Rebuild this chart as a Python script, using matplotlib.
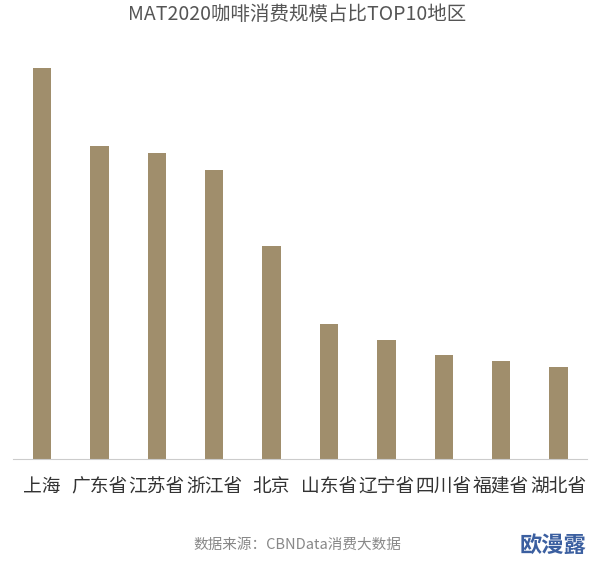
import matplotlib
matplotlib.use("Agg")
import matplotlib.pyplot as plt

plt.rcParams['font.family'] = ['Noto Sans CJK SC', 'DejaVu Sans']

regions = ["上海", "广东省", "江苏省", "浙江省", "北京", "山东省", "辽宁省", "四川省", "福建省", "湖北省"]
values = [391, 313, 306, 289, 213, 135, 119, 104, 98, 92]

fig = plt.figure(figsize=(5.94, 5.64), dpi=100)
ax = fig.add_axes([13.3/594, 105/564, 574/594, 400/564])
ax.bar(range(len(regions)), values, width=0.32, color="#a08e6c")
ax.set_xlim(-0.5, 9.5)
ax.set_ylim(0, 400)
ax.set_xticks(range(len(regions)))
ax.set_xticklabels(regions, fontsize=13.5, color="#333333")
ax.tick_params(axis='x', length=0, pad=12)
ax.set_yticks([])
for s in ["top", "right", "left"]:
    ax.spines[s].set_visible(False)
ax.spines["bottom"].set_color("#cccccc")

fig.text(0.5, 1 - 14/564, "MAT2020咖啡消费规模占比TOP10地区", ha="center", va="center",
         fontsize=14, color="#555555")
fig.text(0.5, 1 - 545/564, "数据来源：CBNData消费大数据", ha="center", va="center",
         fontsize=10.5, color="#888888")
fig.text(1 - 8/594, 1 - 545/564, "欧漫露", ha="right", va="center",
         fontsize=16, color="#3b5fa0", fontweight="bold")
fig.savefig("out.png", dpi=100)
